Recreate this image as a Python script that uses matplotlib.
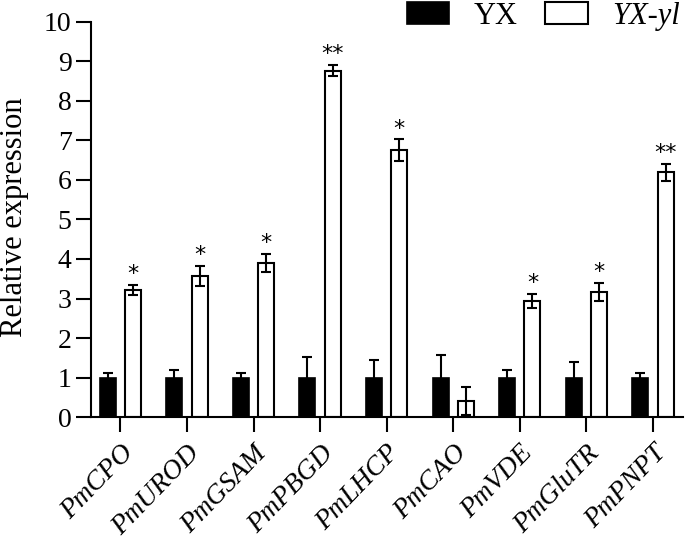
import numpy as np
import matplotlib.pyplot as plt
from matplotlib.transforms import ScaledTranslation

genes = ['PmCPO', 'PmUROD', 'PmGSAM', 'PmPBGD', 'PmLHCP',
         'PmCAO', 'PmVDE', 'PmGluTR', 'PmPNPT']
yx_mean = [1.0, 1.0, 1.0, 1.0, 1.0, 1.0, 1.0, 1.0, 1.0]
yx_err = [0.11, 0.19, 0.12, 0.53, 0.44, 0.57, 0.19, 0.40, 0.11]
yl_mean = [3.22, 3.57, 3.90, 8.77, 6.76, 0.41, 2.94, 3.17, 6.19]
yl_err = [0.12, 0.25, 0.23, 0.15, 0.27, 0.36, 0.17, 0.23, 0.21]
signif = ['*', '*', '*', '**', '*', '', '*', '*', '**']

plt.rcParams['font.family'] = ['Liberation Serif', 'DejaVu Serif']

def main():
    fig = plt.figure(figsize=(6.85, 5.49), dpi=100)
    ax = fig.add_axes([0.133, 0.2404, 0.864, 0.7196])

    x = np.arange(len(genes))
    w = 0.24
    off = 0.19
    ekw = dict(elinewidth=1.5, capthick=1.5)
    ax.bar(x - off, yx_mean, w, color='black', edgecolor='black', linewidth=1.2,
           yerr=yx_err, capsize=3.3, error_kw=ekw, label='YX', zorder=2)
    ax.bar(x + off, yl_mean, w, color='white', edgecolor='black', linewidth=1.5,
           yerr=yl_err, capsize=3.3, error_kw=ekw, label='YX-yl', zorder=2)

    # significance stars above white bars
    for i, s in enumerate(signif):
        if s:
            ax.text(x[i] + off, yl_mean[i] + yl_err[i] + 0.02, s,
                    ha='center', va='bottom', fontsize=16, family='DejaVu Sans')

    ax.set_xlim(-0.44, len(genes) - 0.55)
    ax.set_ylim(0, 10)
    ax.set_yticks(range(0, 11))
    ax.set_xticks(x)
    ax.set_xticklabels(genes, rotation=46, ha='right', va='top',
                       rotation_mode='anchor', style='italic', fontsize=20)
    # nudge the rotated labels a little to the left
    shift = ScaledTranslation(-6 / 72, -2 / 72, fig.dpi_scale_trans)
    for lab in ax.get_xticklabels():
        lab.set_transform(lab.get_transform() + shift)
    ax.tick_params(axis='y', labelsize=20, length=11, width=1.5, pad=3)
    ax.tick_params(axis='x', length=11, width=1.5, pad=6)
    for sp in ['top', 'right']:
        ax.spines[sp].set_visible(False)
    for sp in ['left', 'bottom']:
        ax.spines[sp].set_linewidth(1.5)
    ax.set_ylabel('Relative expression', fontsize=22)
    ax.yaxis.set_label_coords(-0.105, 0.506)

    leg = fig.legend(loc='upper right', bbox_to_anchor=(0.993, 0.997), ncol=2,
                     frameon=False, fontsize=22, handlelength=1.4,
                     handleheight=0.7, columnspacing=0.9, handletextpad=0.8,
                     borderpad=0, borderaxespad=0)
    leg.get_texts()[1].set_style('italic')

    fig.savefig('out.png', dpi=100)

if __name__ == '__main__':
    main()
